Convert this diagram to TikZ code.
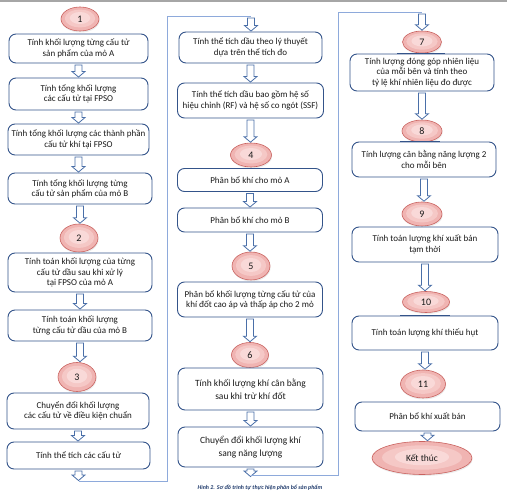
\documentclass[tikz,border=0pt]{standalone}
\usepackage{fontspec}
\setmainfont{Carlito}
\usetikzlibrary{shapes.geometric,shadows,calc}
\definecolor{boxc}{HTML}{34548A}
\definecolor{linec}{HTML}{8EAADB}
\definecolor{arrc}{HTML}{4A6FA8}
\definecolor{ellb}{HTML}{C9625F}
\definecolor{ellin}{HTML}{F9D9D8}
\definecolor{ellmid}{HTML}{F5C8C6}
\definecolor{ellout}{HTML}{F0B4B2}
\definecolor{txtc}{HTML}{1A1A1A}
\definecolor{capc}{HTML}{1F3A6B}
\definecolor{topc}{HTML}{A6A6A6}
\newcommand\barr[2]{\draw[arrst] let \p1=(#1), \p2=(#2) in
  (\x1-3.5pt,\y1-1.5pt) -- (\x1+3.5pt,\y1-1.5pt) -- (\x1+3.5pt,\y2+6pt) -- (\x1+6.5pt,\y2+6pt)
  -- (\x1,\y2+0.5pt) -- (\x1-6.5pt,\y2+6pt) -- (\x1-3.5pt,\y2+6pt) -- cycle;}
\begin{document}
\begin{tikzpicture}[x=1pt,y=-1pt,
  bx/.style={draw=boxc, fill=white, rounded corners=7pt, line width=0.9pt, align=center,
    text=txtc, font=\fontsize{9}{10.5}\selectfont, inner sep=0pt},
  el/.style={ellipse, draw=ellb, line width=0.6pt, fill=ellout,
    path picture={
      \fill[ellmid] ($(path picture bounding box.center)+(0,-0.5)$) ellipse [x radius=0.40*\pgfkeysvalueof{/pgf/minimum width}, y radius=0.37*\pgfkeysvalueof{/pgf/minimum height}];
      \fill[ellin] ($(path picture bounding box.center)+(0,-1)$) ellipse [x radius=0.27*\pgfkeysvalueof{/pgf/minimum width}, y radius=0.25*\pgfkeysvalueof{/pgf/minimum height}];},
    drop shadow={opacity=0.15, shadow xshift=0.6pt, shadow yshift=-1.5pt},
    inner sep=0pt, text=txtc, font=\fontsize{10}{12}\selectfont},
  arrst/.style={draw=arrc, fill=white, line width=0.8pt, line join=miter},
  conn/.style={draw=linec, line width=0.9pt},
  topmark/.style={draw=boxc, line width=1.6pt}]
\useasboundingbox (0,0) rectangle (507,500);
\draw[topc, line width=1.2pt] (0,1) -- (507,1);
% column 1
\node[el, minimum width=38pt, minimum height=24pt] (e1) at (80,19) {1};
\node[bx, minimum width=139pt, minimum height=29pt] (b1) at (78.5,48.5) {Tính khối lượng từng cấu tử\\sản phẩm của mỏ A};
\node[bx, minimum width=139pt, minimum height=32pt] (b2) at (78.5,94) {Tính tổng khối lượng\\các cấu tử tại FPSO};
\node[bx, minimum width=141pt, minimum height=31pt] (b3) at (78.5,139.5) {Tính tổng khối lượng các thành phần\\cấu tử khí tại FPSO};
\node[bx, minimum width=144pt, minimum height=31pt] (b4) at (80,188.5) {Tính tổng khối lượng từng\\cấu tử sản phẩm của mỏ B};
\node[el, minimum width=38pt, minimum height=28pt] (e2) at (79,238) {2};
\node[bx, minimum width=144pt, minimum height=39pt] (b5) at (80,272.5) {Tính toán khối lượng của từng\\cấu tử dầu sau khi xử lý\\tại FPSO của mỏ A};
\node[bx, minimum width=144pt, minimum height=31pt] (b6) at (80,325.5) {Tính toán khối lượng\\từng cấu tử dầu của mỏ B};
\node[el, minimum width=38pt, minimum height=29pt] (e3) at (77,377) {3};
\node[bx, minimum width=142pt, minimum height=36pt] (b7) at (78,411) {Chuyển đổi khối lượng\\các cấu tử về điều kiện chuẩn};
\node[bx, minimum width=143pt, minimum height=27pt] (b8) at (78.5,455.5) {Tính thể tích các cấu tử};
% column 2
\node[bx, minimum width=143pt, minimum height=31pt] (a1) at (250.5,47.5) {Tính thể tích dầu theo lý thuyết\\dựa trên thể tích đo};
\node[bx, minimum width=146pt, minimum height=35pt] (a2) at (250.5,100.5) {Tính thể tích dầu bao gồm hệ số\\hiệu chỉnh (RF) và hệ số co ngót (SSF)};
\node[el, minimum width=41pt, minimum height=24pt] (e4) at (251,155) {4};
\node[bx, minimum width=145pt, minimum height=23pt] (a3) at (250,180) {Phân bổ khí cho mỏ A};
\node[bx, minimum width=145pt, minimum height=24pt] (a4) at (250,220) {Phân bổ khí cho mỏ B};
\node[el, minimum width=38pt, minimum height=28pt] (e5) at (251,266) {5};
\node[bx, minimum width=145pt, minimum height=35pt] (a5) at (250,299.5) {Phân bổ khối lượng từng cấu tử của\\khí đốt cao áp và thấp áp cho 2 mỏ};
\node[el, minimum width=37pt, minimum height=25pt] (e6) at (250,355) {6};
\node[bx, minimum width=145pt, minimum height=42pt, font=\fontsize{9.5}{12.5}\selectfont] (a6) at (250.5,389) {Tính khối lượng khí cân bằng\\sau khi trừ khí đốt};
\node[bx, minimum width=145pt, minimum height=40pt, font=\fontsize{9.5}{12.5}\selectfont] (a7) at (250.5,447) {Chuyển đổi khối lượng khí\\sang năng lượng};
% column 3
\node[el, minimum width=39pt, minimum height=22pt] (e7) at (422,42) {7};
\node[bx, minimum width=144pt, minimum height=37pt] (c1b) at (422,72.5) {Tính lượng đóng góp nhiên liệu\\của mỗi bên và tính theo\\tỷ lệ khí nhiên liệu đo được};
\node[el, minimum width=40pt, minimum height=22pt] (e8) at (422,131) {8};
\node[bx, minimum width=144pt, minimum height=35pt] (c2b) at (424,159.5) {Tính lượng cân bằng năng lượng 2\\cho mỗi bên};
\node[el, minimum width=40pt, minimum height=24pt] (e9) at (422,214) {9};
\node[bx, minimum width=146pt, minimum height=35pt] (c3b) at (425,244.5) {Tính toán lượng khí xuất bán\\tạm thời};
\node[el, minimum width=47pt, minimum height=21pt] (e10) at (426,302) {10};
\node[bx, minimum width=146pt, minimum height=34pt] (c4b) at (425,333) {Tính toán lượng khí thiếu hụt};
\node[el, minimum width=45pt, minimum height=28pt] (e11) at (423,384) {11};
\node[bx, minimum width=145pt, minimum height=29pt] (c5b) at (427.5,416.5) {Phân bổ khí xuất bán};
\node[el, minimum width=100pt, minimum height=33pt, font=\fontsize{9.5}{11}\selectfont] (end) at (422,458) {Kết thúc};
% dark marks on box tops
\draw[topmark] ($(c1b.north)+(-25,0)$) -- ($(c1b.north)+(23,0)$);
\draw[topmark] ($(c2b.north)+(-24,0)$) -- ($(c2b.north)+(16,0)$);
\draw[topmark] ($(c4b.north)+(-25,0)$) -- ($(c4b.north)+(25,0)$);
% caption
\node[font=\fontsize{5.9}{7}\selectfont\bfseries\itshape, text=capc, inner sep=0pt] (cap) at (260,488) {Hình 2. Sơ đồ trình tự thực hiện phân bổ sản phẩm};
% helper coordinates
\coordinate (k1) at (167,0);
\coordinate (k2) at (338,0);
\coordinate (p1) at (79,481);
\coordinate (p2) at (251,16.5);
\coordinate (p3) at (250.5,477);
\coordinate (p4) at (422,12.5);
% arrows column 1
\barr{b1.south}{b2.north}
\barr{b2.south}{b3.north}
\barr{b3.south}{b4.north}
\barr{b4.south}{e2.north}
\barr{b5.south}{b6.north}
\barr{b6.south}{e3.north}
\barr{b7.south}{b8.north}
\barr{b8.south}{p1}
% connector col1 -> col2
\draw[conn] (p1) -- (p1 -| k1) |- (p2);
\barr{p2}{a1.north}
% arrows column 2
\barr{a1.south}{a2.north}
\barr{a2.south}{e4.north}
\barr{a3.south}{a4.north}
\barr{a4.south}{e5.north}
\barr{a5.south}{e6.north}
\barr{a6.south}{a7.north}
\barr{a7.south}{p3}
% connector col2 -> col3
\draw[conn] ($(p3)+(0,-2)$) -- ($(p3 -| k2)+(0,-2)$) |- (p4);
\barr{p4}{e7.north}
% arrows column 3
\barr{c1b.south}{e8.north}
\barr{c2b.south}{e9.north}
\barr{c3b.south}{e10.north}
\barr{c4b.south}{e11.north}
\barr{c5b.south}{end.north}
\end{tikzpicture}
\end{document}
